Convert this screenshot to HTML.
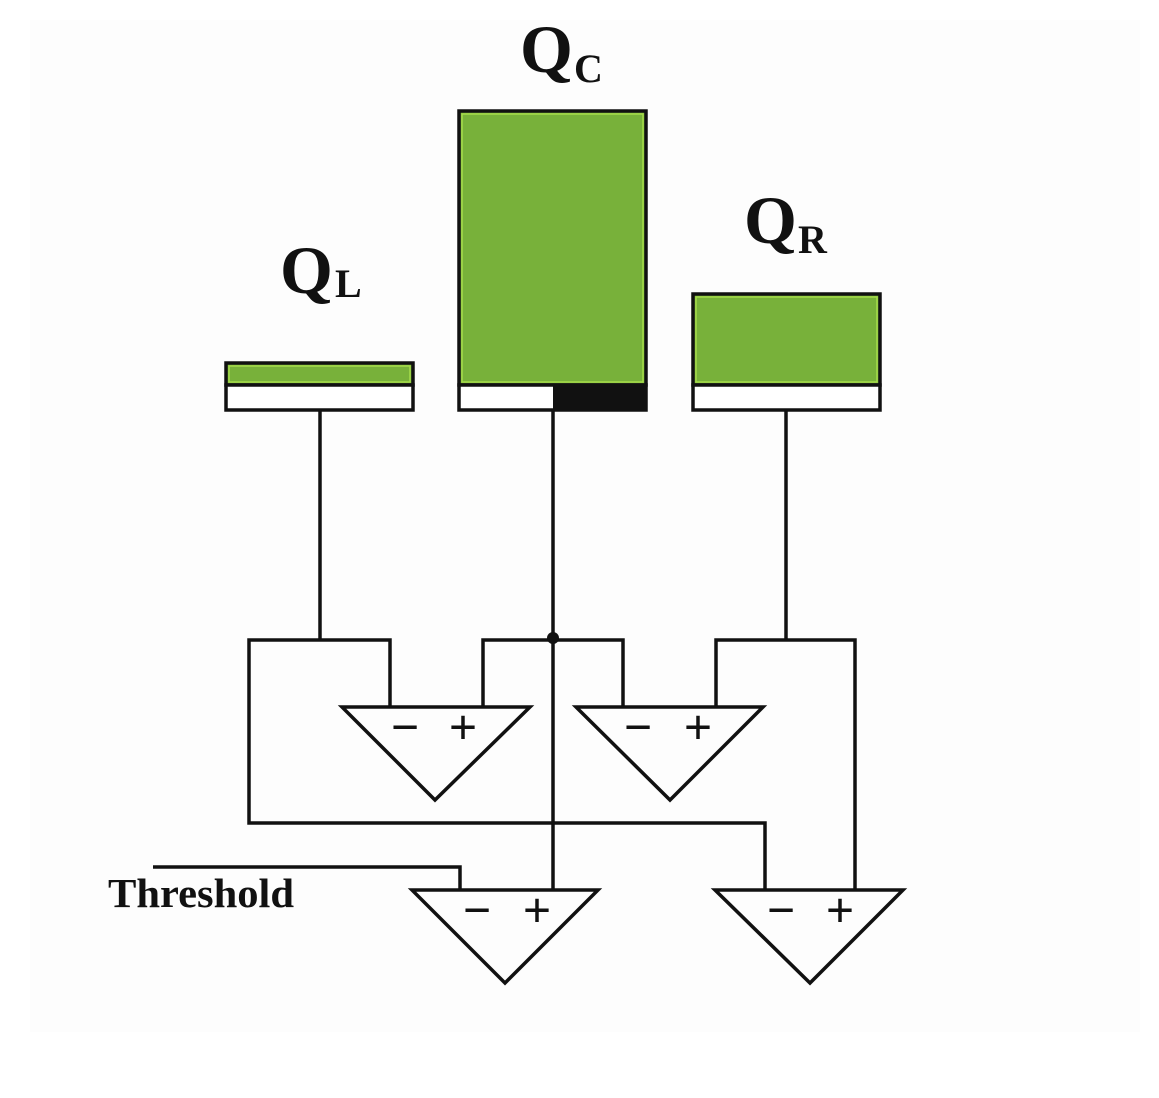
<!DOCTYPE html>
<html><head><meta charset="utf-8"><style>
html,body{margin:0;padding:0;background:#fff;}
svg{display:block;}
text{font-family:"Liberation Serif",serif;font-weight:bold;fill:#111;}
</style></head><body>
<svg id="diagram" width="1159" height="1098" viewBox="0 0 1159 1098" xmlns="http://www.w3.org/2000/svg">
<rect x="0" y="0" width="1159" height="1098" fill="#fff"/>
<rect x="30" y="20" width="1110" height="1012" fill="#fdfdfd"/>
<g id="bars"></g>
<g id="wires" stroke="#111" stroke-width="3.5" fill="none">
  <polyline points="320,410 320,640"/>
  <polyline points="553,410 553,890"/>
  <polyline points="786,410 786,640"/>
  <polyline points="390,707 390,640 249,640 249,823 765,823 765,890"/>
  <polyline points="483,707 483,640 623,640 623,707"/>
  <polyline points="716,707 716,640 855,640 855,890"/>
  <polyline points="153,867 460,867 460,890"/>
  <polygon points="342,707 530,707 435,800"/>
  <polygon points="576,707 763,707 670,800"/>
  <polygon points="412,890 598,890 505,983"/>
  <polygon points="715,890 903,890 810,983"/>
</g>
<circle cx="553" cy="638" r="6" fill="#111"/>
<g font-size="50">
  <text x="405" y="744" text-anchor="middle" font-weight="normal">−</text><text x="463" y="744" text-anchor="middle" font-weight="normal">+</text>
  <text x="638" y="744" text-anchor="middle" font-weight="normal">−</text><text x="698" y="744" text-anchor="middle" font-weight="normal">+</text>
  <text x="477" y="927" text-anchor="middle" font-weight="normal">−</text><text x="537" y="927" text-anchor="middle" font-weight="normal">+</text>
  <text x="781" y="927" text-anchor="middle" font-weight="normal">−</text><text x="840" y="927" text-anchor="middle" font-weight="normal">+</text>
</g>
<text x="108" y="907" font-size="41" textLength="186" lengthAdjust="spacingAndGlyphs">Threshold</text>
<g id="labels"></g>
</svg>
<script>
const labels = ["L", "C", "R"];
const charges = [22, 274, 91];
const ns = "http://www.w3.org/2000/svg";
const baseY = 385, boxW = 187;
const xLeft = [226, 459, 693];
const pxPerUnit = 1;
const labelPos = [[280, 293, 335, 297], [520, 72, 574, 82], [744, 243, 798, 253]];
function yScale(v){ return baseY - v * pxPerUnit; }
const gB = document.getElementById('bars');
const gL = document.getElementById('labels');
charges.forEach((v, i) => {
  const x = xLeft[i];
  const g = document.createElementNS(ns, 'rect');
  g.setAttribute('x', x); g.setAttribute('y', yScale(v));
  g.setAttribute('width', boxW); g.setAttribute('height', baseY - yScale(v));
  g.setAttribute('fill', '#78b13a'); g.setAttribute('stroke', '#111'); g.setAttribute('stroke-width', '3.5');
  
  
  gB.appendChild(g);
  const inner = document.createElementNS(ns, 'rect');
  inner.setAttribute('x', x + 3); inner.setAttribute('y', yScale(v) + 3);
  inner.setAttribute('width', boxW - 6); inner.setAttribute('height', Math.max(0, baseY - yScale(v) - 6));
  inner.setAttribute('fill', 'none'); inner.setAttribute('stroke', '#a6dc4a'); inner.setAttribute('stroke-width', '1.5');
  
  
  gB.appendChild(inner);
  const w = document.createElementNS(ns, 'rect');
  w.setAttribute('x', x); w.setAttribute('y', baseY);
  w.setAttribute('width', boxW); w.setAttribute('height', 25);
  w.setAttribute('fill', '#fff'); w.setAttribute('stroke', '#111'); w.setAttribute('stroke-width', '3.5');
  
  
  gB.appendChild(w);
  if (i === 1) {
    const b = document.createElementNS(ns, 'rect');
    b.setAttribute('x', x + 94); b.setAttribute('y', baseY);
    b.setAttribute('width', boxW - 94); b.setAttribute('height', 25);
    b.setAttribute('fill', '#111');
    
    
    gB.appendChild(b);
  }
  const p = labelPos[i];
  const t = document.createElementNS(ns, 'text');
  t.setAttribute('x', p[0]); t.setAttribute('y', p[1]); t.setAttribute('font-size', '68');
  t.textContent = 'Q';
  
  
  gL.appendChild(t);
  const s = document.createElementNS(ns, 'text');
  s.setAttribute('x', p[2]); s.setAttribute('y', p[3]); s.setAttribute('font-size', '40');
  s.textContent = labels[i];
  
  
  gL.appendChild(s);
});
</script>
</body></html>
